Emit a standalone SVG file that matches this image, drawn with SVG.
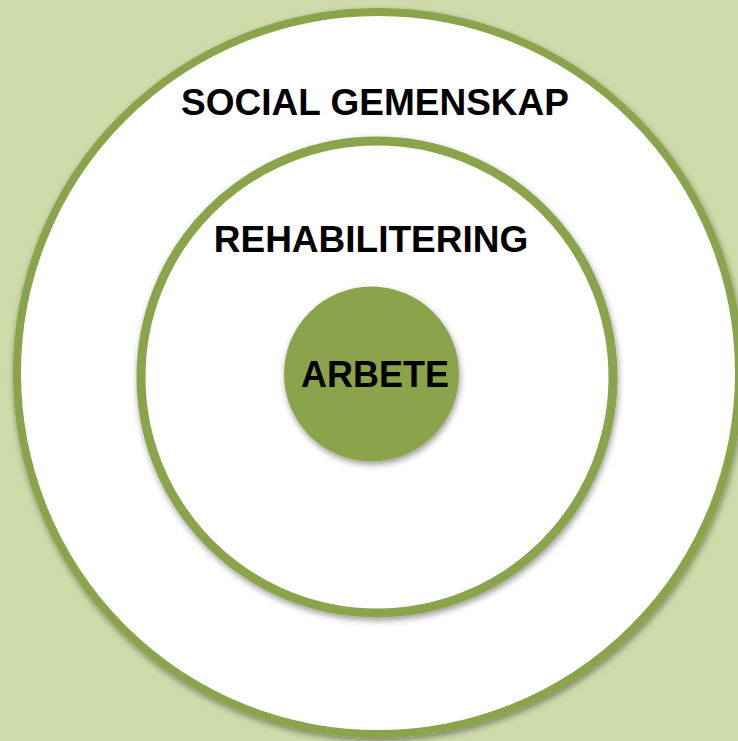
<svg xmlns="http://www.w3.org/2000/svg" width="738" height="741" viewBox="0 0 738 741">
  <defs>
    <filter id="shadow" x="-10%" y="-10%" width="120%" height="120%">
      <feDropShadow dx="1" dy="3" stdDeviation="3" flood-color="#000000" flood-opacity="0.4"/>
    </filter>
  </defs>
  <style>
    .ring { fill: #ffffff; stroke: #8ba34b; filter: url(#shadow); }
    .core { fill: #8ba34b; filter: url(#shadow); }
    .label { font-family: "Liberation Sans", Arial, sans-serif; font-weight: bold; fill: #000000; text-anchor: middle; }
  </style>
  <rect x="0" y="0" width="738" height="741" fill="#cedbaa"/>
  <g id="social-gemenskap">
    <circle class="ring" cx="378" cy="373" r="361" stroke-width="8"/>
    <text class="label" x="375" y="115" font-size="37">SOCIAL GEMENSKAP</text>
  </g>
  <g id="rehabilitering">
    <circle class="ring" cx="377" cy="377" r="236" stroke-width="9"/>
    <text class="label" x="371" y="252" font-size="37">REHABILITERING</text>
  </g>
  <g id="arbete">
    <circle class="core" cx="371.5" cy="374" r="87.5"/>
    <text class="label" x="375" y="387" font-size="36">ARBETE</text>
  </g>
  <g id="connectors"/>
</svg>
